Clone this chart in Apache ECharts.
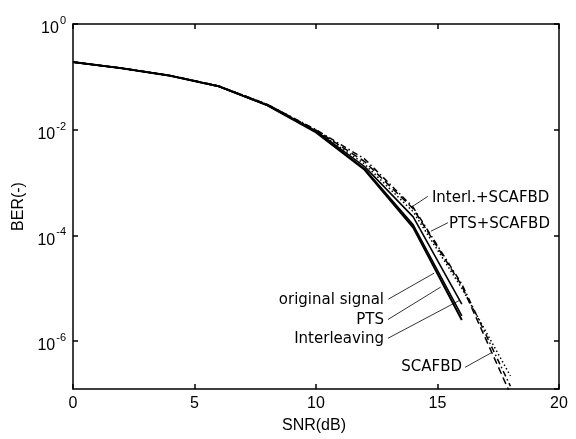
<!DOCTYPE html>
<html><head><meta charset="utf-8">
<script src="https://cdn.jsdelivr.net/npm/echarts@6/dist/echarts.min.js"></script>
<style>html,body{margin:0;padding:0;background:#fff}#c{width:576px;height:439px}</style>
</head><body><div id="c"></div>
<script>
// ---- data (SNR in dB, BER) ----
const snrSolid = [0, 2, 4, 6, 8, 10, 12, 14, 16];
const snrScafbd = [0, 2, 4, 6, 8, 10, 12, 14, 16, 18];
const berOriginal = [0.19, 0.145, 0.105, 0.066, 0.029, 0.0089, 1.74e-3, 1.41e-4, 2.5e-6];
const berPTS = [0.19, 0.145, 0.105, 0.066, 0.029, 0.0091, 1.82e-3, 1.58e-4, 3.0e-6];
const berInterleaving = [0.19, 0.145, 0.105, 0.066, 0.029, 0.0095, 2.0e-3, 2.24e-4, 5.0e-6];
const berSCAFBD = [0.19, 0.146, 0.106, 0.067, 0.030, 0.0098, 2.5e-3, 3.2e-4, 1.12e-5, 1.0e-7];
const berPTSSCAFBD = [0.19, 0.146, 0.106, 0.067, 0.030, 0.0100, 2.8e-3, 3.4e-4, 1.2e-5, 1.4e-7];
const berInterlSCAFBD = [0.19, 0.146, 0.106, 0.067, 0.030, 0.0096, 2.24e-3, 2.8e-4, 1.0e-5, 2.2e-7];
const xTicks = [0, 5, 10, 15, 20];
const yTickExponents = [0, -2, -4, -6];

// annotations: label, text anchor [snr, ber], alignment, pointer from, pointer to
const annLabels = ['Interl.+SCAFBD', 'PTS+SCAFBD', 'original signal', 'PTS', 'Interleaving', 'SCAFBD'];
const annText = [[14.77, 5.08e-4], [15.47, 1.67e-4], [12.80, 5.97e-6], [12.80, 2.53e-6], [12.80, 1.08e-6], [16.01, 3.21e-7]];
const annAlign = ['left', 'left', 'right', 'right', 'right', 'right'];
const annFrom = [[14.60, 5.46e-4], [15.43, 1.74e-4], [12.98, 6.22e-6], [12.96, 2.56e-6], [12.96, 1.13e-6], [16.13, 3.18e-7]];
const annTo = [[13.91, 3.39e-4], [14.73, 1.20e-4], [14.86, 1.93e-5], [15.13, 1.05e-5], [15.93, 5.97e-6], [17.23, 6.07e-7]];

const yMin = 1.24e-7, yMax = 1;

function pairs(xs, ys) { return xs.map((x, i) => [x, ys[i]]); }

const chart = echarts.init(document.getElementById('c'), null, { renderer: 'canvas' });
const axisLine = { show: true, onZero: false, lineStyle: { color: '#000', width: 1.5 } };
const tick = { show: true, inside: true, length: 5, lineStyle: { color: '#000', width: 1.5 } };
const tickFont = 'Liberation Sans';

function line(name, data, type, width) {
  return {
    name, type: 'line', data, showSymbol: false, symbol: 'none', clip: true,
    lineStyle: { color: '#000', width: width, type: type }, z: 3, animation: false
  };
}

chart.setOption({
  animation: false,
  backgroundColor: '#fff',
  grid: { left: 73, right: 17, top: 24, bottom: 40, containLabel: false },
  xAxis: [
    {
      type: 'value', min: 0, max: 20, interval: 5, position: 'bottom',
      axisLine, axisTick: tick, splitLine: { show: false },
      axisLabel: { color: '#000', fontFamily: tickFont, fontSize: 16, margin: 7,
        formatter: v => xTicks.includes(v) ? String(v) : '' },
      name: 'SNR(dB)', nameLocation: 'middle', nameGap: 29,
      nameTextStyle: { color: '#000', fontFamily: tickFont, fontSize: 16, padding: [0, 4, 0, 0] }
    },
    {
      type: 'value', min: 0, max: 20, interval: 5, position: 'top',
      axisLine, axisTick: tick, axisLabel: { show: false }, splitLine: { show: false }
    }
  ],
  yAxis: [
    {
      type: 'log', logBase: 100, min: yMin, max: yMax, position: 'left',
      axisLine, axisTick: tick, splitLine: { show: false }, minorTick: { show: false },
      axisLabel: {
        showMinLabel: false, margin: 7,
        formatter: v => {
          const e = Math.round(Math.log10(v));
          if (!yTickExponents.includes(e)) return '';
          return '{b|10}{s|' + e + '}';
        },
        rich: {
          b: { color: '#000', fontFamily: tickFont, fontSize: 16, padding: [10, 0, 0, 0] },
          s: { color: '#000', fontFamily: tickFont, fontSize: 11, padding: [0, 0, 6, 1] }
        }
      },
      name: 'BER(-)', nameLocation: 'middle', nameGap: 37, nameRotate: 90,
      nameTextStyle: { color: '#000', fontFamily: tickFont, fontSize: 16 }
    },
    {
      type: 'log', logBase: 100, min: yMin, max: yMax, position: 'right',
      axisLine, axisTick: tick, axisLabel: { show: false }, splitLine: { show: false }
    }
  ],
  series: [
    line('original signal', pairs(snrSolid, berOriginal), 'solid', 2),
    line('PTS', pairs(snrSolid, berPTS), 'solid', 1.6),
    line('Interleaving', pairs(snrSolid, berInterleaving), 'solid', 1.6),
    line('SCAFBD', pairs(snrScafbd, berSCAFBD), [7, 4], 1.5),
    line('PTS+SCAFBD', pairs(snrScafbd, berPTSSCAFBD), [6, 3, 1.5, 3], 1.5),
    line('Interl.+SCAFBD', pairs(snrScafbd, berInterlSCAFBD), [1.5, 2.5], 1.5)
  ]
});

// annotation text and pointer lines placed in data coordinates
const graphics = [];
annLabels.forEach((t, i) => {
  const p = chart.convertToPixel({ gridIndex: 0 }, annText[i]);
  const a = chart.convertToPixel({ gridIndex: 0 }, annFrom[i]);
  const b = chart.convertToPixel({ gridIndex: 0 }, annTo[i]);
  graphics.push({
    type: 'text', x: p[0], y: p[1], z: 10,
    style: { text: t, fill: '#000', font: '15px "DejaVu Sans"', textAlign: annAlign[i], textVerticalAlign: 'middle' }
  });
  graphics.push({
    type: 'line', z: 10,
    shape: { x1: a[0], y1: a[1], x2: b[0], y2: b[1] },
    style: { stroke: '#000', lineWidth: 0.8 }
  });
});
chart.setOption({ graphic: graphics });
</script>
</body></html>
